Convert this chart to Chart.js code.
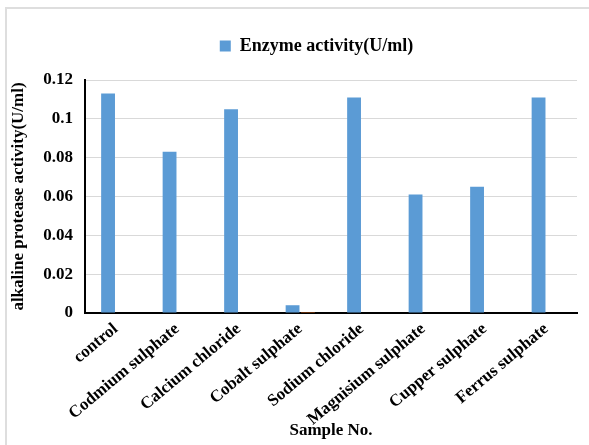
<!DOCTYPE html>
<html>
<head>
<meta charset="utf-8">
<script src="https://cdn.jsdelivr.net/npm/chart.js@4.4.0/dist/chart.umd.min.js"></script>
<style>
  html, body { margin: 0; padding: 0; background: #fff; overflow: hidden; }
  #wrap { position: relative; width: 589px; height: 445px; }
  #frame { position: absolute; left: 5px; top: 7px; width: 600px; height: 460px; border: 2px solid #dedede; box-sizing: border-box; }
  canvas { position: absolute; left: 0; top: 0; }
</style>
</head>
<body>
<div id="wrap">
  <div id="frame"></div>
  <canvas id="chart" width="589" height="445"></canvas>
</div>
<script>
// chart data
const samples = [
  "control",
  "Codmium sulphate",
  "Calcium chloride",
  "Cobalt sulphate",
  "Sodium chloride",
  "Magnisium sulphate",
  "Cupper sulphate",
  "Ferrus sulphate",
];
const enzymeActivity = [0.113, 0.083, 0.105, 0.004, 0.111, 0.061, 0.065, 0.111];
const secondSeries = [0, 0, 0, 0.0005, 0, 0, 0, 0];
const yTicks = [0, 0.02, 0.04, 0.06, 0.08, 0.1, 0.12];

const serif = "'Liberation Serif', 'Times New Roman', serif";

// extra room under the legend, and nudge it right over the plot
const legendGap = {
  id: "legendGap",
  beforeInit(chart) {
    const fit = chart.legend.fit;
    chart.legend.fit = function () {
      fit.call(this);
      this.height += 15;
    };
  },
  afterLayout(chart) {
    chart.legend.left += 24;
    chart.legend.right += 24;
  },
};

new Chart(document.getElementById("chart").getContext("2d"), {
  type: "bar",
  data: {
    labels: samples,
    datasets: [
      {
        label: "Enzyme activity(U/ml)",
        data: enzymeActivity,
        backgroundColor: "#5b9bd5",
        categoryPercentage: 0.5,
        barPercentage: 0.9,
      },
      {
        label: "",
        data: secondSeries,
        backgroundColor: "#c55a11",
        categoryPercentage: 0.5,
        barPercentage: 0.9,
      },
    ],
  },
  plugins: [legendGap],
  options: {
    responsive: false,
    animation: false,
    layout: { padding: { top: 9, right: 12, left: 8, bottom: 4 } },
    plugins: {
      tooltip: { enabled: false },
      legend: {
        position: "top",
        labels: {
          filter: (item) => item.datasetIndex === 0,
          boxWidth: 11,
          boxHeight: 11,
          color: "#000",
          font: { family: serif, size: 18, weight: "bold" },
          padding: 28,
        },
      },
    },
    scales: {
      x: {
        grid: { display: false, drawTicks: false },
        border: { color: "#000", width: 2 },
        ticks: {
          color: "#000",
          font: { family: serif, size: 17, weight: "bold" },
          maxRotation: 40,
          minRotation: 40,
          padding: 6,
        },
        title: {
          display: true,
          text: "Sample No.",
          color: "#000",
          font: { family: serif, size: 17, weight: "bold" },
          padding: { top: 0, bottom: 0 },
        },
        afterFit: (scale) => { scale.height = 128; },
      },
      y: {
        min: 0,
        max: 0.12,
        afterBuildTicks: (scale) => {
          scale.ticks = yTicks.map((v) => ({ value: v }));
        },
        grid: { color: "#d9d9d9", drawTicks: false },
        border: { color: "#000", width: 2 },
        ticks: {
          color: "#000",
          font: { family: serif, size: 17, weight: "bold" },
          padding: 12,
          callback: (v) => String(Number(v.toFixed(2))),
        },
        title: {
          display: true,
          text: "alkaline protease activity(U/ml)",
          color: "#000",
          font: { family: serif, size: 17, weight: "bold" },
          padding: { top: 0, bottom: 4 },
        },
        afterFit: (scale) => { scale.width = 77; },
      },
    },
  },
});
</script>
</body>
</html>
